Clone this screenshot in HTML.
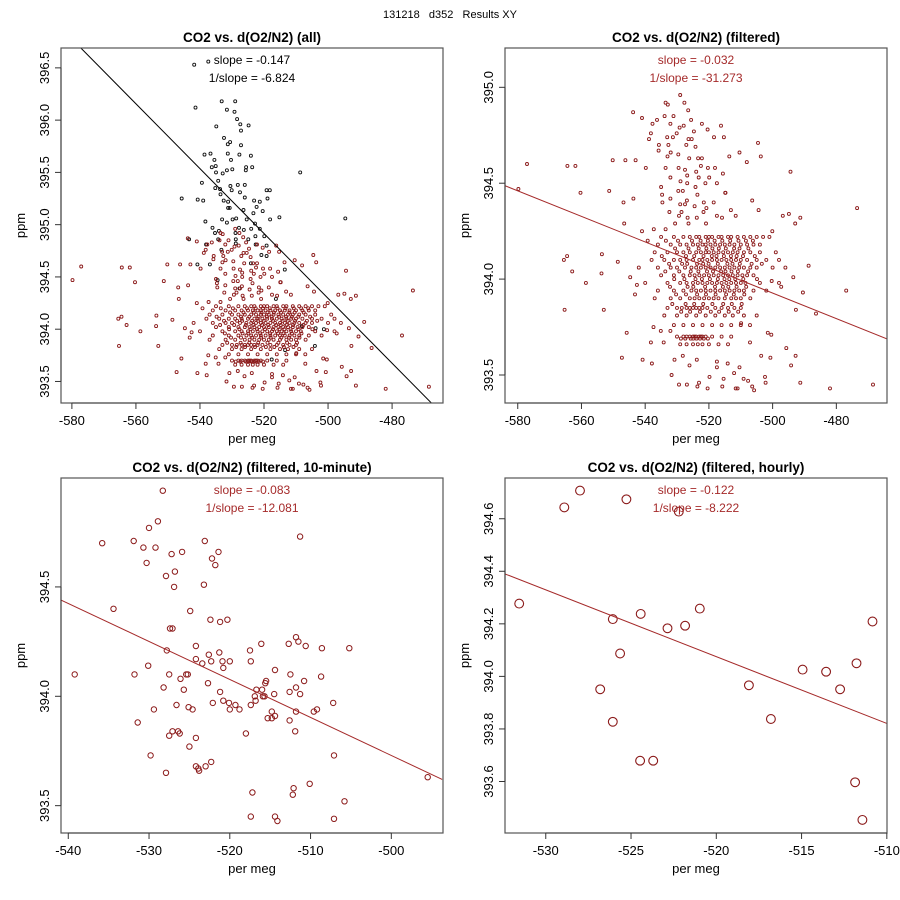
<!DOCTYPE html>
<html><head><meta charset="utf-8"><style>
html,body{margin:0;padding:0;background:#fff;}
svg{display:block;font-family:"Liberation Sans",Arial,sans-serif;}
</style></head><body>
<svg id="chart" width="900" height="900" viewBox="0 0 900 900">
<text x="450" y="18" text-anchor="middle" font-size="11" style="white-space:pre" xml:space="preserve">131218   d352   Results XY</text>
</svg>
<script>
// ---------- DATA ----------
const filteredOut = [
[-579.8,394.47],[-577.1,394.60],[-564.4,394.59],[-561.9,394.59],[-560.3,394.45],[-565.5,394.10],[-564.5,394.12],[-562.9,394.04],[-558.6,393.98],[-565.3,393.84],[-553.0,393.84],[-553.6,394.13],[-553.7,394.03],[-551.3,394.46],[-550.2,394.62],[-548.6,394.09],[-546.8,394.40],[-546.6,394.29],[-546.2,394.62],[-543.0,394.62],[-543.8,394.87],[-543.7,394.42],[-547.3,393.59],[-545.8,393.72],[-544.7,394.01],[-543.2,393.92],[-542.6,393.97],[-540.8,393.58],[-541.0,394.25],[-541.0,394.84],[-539.8,394.58],[-539.2,394.20],[-537.9,393.56],[-538.2,393.67],[-537.4,393.75],
[-468.5,393.45],[-473.5,394.37],[-482.0,393.43],[-476.9,393.94],[-486.4,393.82],[-488.7,394.07],[-490.5,393.93],[-491.3,393.46],[-491.3,394.32],[-492.9,394.29],[-492.7,393.84],[-492.8,393.60],[-494.4,394.56],[-494.2,393.55],[-495.7,393.64],[-494.9,394.34],[-496.8,394.33],[-493.5,394.01],[-496.0,394.06],[-497.3,393.96],[-504.6,394.71],[-503.7,394.64],[-508.1,394.61],[-510.4,394.66],[-513.6,394.64],[-516.2,394.80],[-515.3,394.74],[-515.6,394.55],[-514.9,394.45],[-506.4,394.41],[-504.4,394.36],[-500.1,394.25],[-500.3,393.99],[-500.7,393.59],[-501.5,393.72],[-500.4,393.71],[-502.4,393.49],[-502.2,393.46],[-503.6,393.60],[-507.1,393.76],[-507.1,393.67],[-509.9,393.77],[-507.7,393.47],[-506.4,393.44],[-505.8,393.42],[-509.1,393.48],[-511.0,393.43],[-511.6,393.43],[-512.1,393.51],[-510.4,393.54],[-514.1,393.56],[-515.4,393.48],[-515.8,393.44],[-517.5,393.57],[-517.5,393.54],[-519.8,393.49],[-520.4,393.43],[-523.1,393.46],[-523.6,393.44],[-523.8,393.58],[-526.1,393.55],[-526.9,393.45],[-529.4,393.45],[-530.8,393.58],[-531.7,393.50],[-528.2,393.60],[-532.1,393.73],[-534.2,393.67],[-535.1,393.73],
[-529.0,394.96],[-533.6,394.92],[-532.9,394.91],[-527.7,394.92],[-526.5,394.88],[-531.1,394.85],[-536.3,394.83],[-533.9,394.85],[-525.6,394.83],[-522.2,394.81],[-527.9,394.80],[-529.2,394.79],[-532.1,394.81],[-537.7,394.81],[-524.7,394.77],[-520.4,394.78],[-518.4,394.74],[-538.2,394.76],[-538.8,394.73],[-530.1,394.76],[-526.4,394.73],[-525.4,394.73],[-527.1,394.70],[-524.2,394.69],[-535.7,394.70],[-532.7,394.70],[-531.3,394.74],[-533.1,394.74],[-535.8,394.67],[-532.0,394.66],[-529.6,394.65],[-526.2,394.63],[-523.4,394.63],[-522.2,394.63],[-533.0,394.64],[-533.6,394.58],[-529.5,394.58],[-527.5,394.57],[-522.5,394.59],[-520.3,394.58],[-518.1,394.58],[-526.8,394.54],[-524.0,394.56],[-532.1,394.53],[-528.9,394.51],[-526.8,394.50],[-523.2,394.53],[-519.9,394.53],[-517.5,394.50],[-521.1,394.50],[-524.2,394.48],[-535.0,394.48],[-534.7,394.44],[-529.6,394.46],[-528.2,394.46],[-523.6,394.44],[-514.8,394.45],[-532.1,394.42],[-526.9,394.41],[-534.6,394.40],[-518.5,394.40],[-521.6,394.40],[-527.5,394.39],[-529.0,394.39],[-524.5,394.38],[-520.8,394.37],[-521.7,394.35],[-528.6,394.35],[-529.4,394.33],[-526.7,394.32],[-523.8,394.32],[-532.4,394.35],[-517.5,394.33],[-515.9,394.32],[-513.1,394.36],[-511.6,394.33],[-520.9,394.29],[-533.6,394.26],[-530.6,394.29],[-526.4,394.29],[-537.3,394.26]
];
const coreRowY = [394.22,394.18,394.14,394.10,394.06,394.02,393.98,393.94,393.90,393.85,393.81,393.76,393.70,393.66,
                  394.20,394.16,394.12,394.08,394.04,394.00,393.96,393.92,393.87,393.83,393.69];
const coreRowX = [
[-535,-531,-528,-526,-524,-523,-521,-520,-519,-517,-516,-514,-513,-511,-509,-507,-505,-503,-501],
[-536,-532,-529,-527,-525,-523.5,-522,-521,-519.5,-518,-516.5,-515,-513.5,-512,-510,-508,-506,-504],
[-537,-533,-530,-528,-526,-524,-522.5,-521,-520,-518.5,-517,-515.5,-514,-512.5,-511,-509,-507,-504,-499],
[-538,-534,-531,-529,-527,-525,-523,-522,-520.5,-519,-517.5,-516,-514.5,-513,-511.5,-510,-508,-505,-502,-498],
[-542,-536,-532,-530,-527.5,-525.5,-524,-522.5,-521,-519.5,-518,-516.5,-515,-513.5,-512,-510.5,-509,-507,-505,-500],
[-535,-531,-528,-526,-524.5,-523,-521.5,-520,-518.5,-517,-515.5,-514,-512.5,-511,-509.5,-508,-506],
[-540,-533,-529,-527,-525,-523.5,-522,-520.5,-519,-517.5,-516,-514.5,-513,-511.5,-510,-508.5,-504,-498],
[-536,-531,-528,-525.5,-524,-522.5,-521,-519.5,-518,-516.5,-515,-513.5,-512,-510.5,-509,-506,-502],
[-537,-532,-529,-526,-524.5,-523,-521.5,-520,-518.5,-517,-515,-513,-511.5,-510,-507],
[-533,-530,-528.5,-527,-526,-525,-524,-523,-522,-520.5,-518,-516,-514,-512,-510],
[-534,-530,-527,-524,-521,-518,-515,-512.5,-509,-505],
[-531,-528,-525,-522,-519,-516,-513,-510],
[-530,-528,-527,-526,-525,-524.5,-524,-523,-522.5,-522,-521,-519,-516,-513],
[-529,-527,-525,-523.5,-522,-520,-517,-514],
[-533.5,-529.7,-525.3,-522.6,-520.3,-518.2,-515.8,-513.3,-510.7,-508.4,-506.2],
[-530.6,-526.4,-523.2,-520.8,-518.9,-516.9,-514.7,-512.1,-510.4,-507.6],
[-534.8,-527.2,-524.6,-521.7,-519.1,-517.6,-515.3,-513.1,-511.3,-509.3,-505.6],
[-532.5,-528.4,-526.8,-523.7,-521.8,-520.1,-517.2,-514.2,-512.6,-510.3,-506.6,-503.4],
[-533.7,-529.3,-525.7,-523.3,-520.6,-518.7,-516.2,-514.8,-512.9,-510.9,-507.7],
[-530.9,-527.7,-524.2,-522.2,-519.7,-517.2,-515.1,-513.6,-511.7,-509.2,-504.9],
[-532.2,-526.7,-524.9,-521.2,-518.1,-515.6,-513.9,-511.3,-508.3],
[-530.3,-527.2,-523.7,-520.9,-517.9,-514.6,-512.2,-508.9],
[-531.5,-527.3,-524.6,-521.8,-518.9,-515.5,-512.8,-509.7],
[-528.7,-525.9,-522.8,-519.4,-516.8,-513.8,-510.8],
[-528.8,-527.4,-525.7,-524.9,-523.9,-522.8,-521.6,-520.3]
];
const excludedPts = [
[-541.8,396.53],[-537.4,396.56],[-541.4,396.12],[-533.2,396.18],[-529.0,396.18],[-531.6,396.10],[-529.2,396.08],[-528.4,396.01],[-527.4,395.96],[-534.9,395.94],[-524.8,395.95],[-527.2,395.90],[-532.5,395.83],[-530.6,395.79],[-531.3,395.77],[-527.2,395.76],[-538.6,395.67],[-536.7,395.68],[-531.3,395.68],[-527.7,395.67],[-524.1,395.66],[-535.5,395.62],[-530.3,395.62],[-536.3,395.55],[-535.1,395.56],[-529.9,395.53],[-531.6,395.52],[-525.6,395.55],[-523.7,395.55],[-525.7,395.52],[-508.7,395.50],[-535.0,395.50],[-532.9,395.49],[-534.3,395.42],[-539.4,395.40],[-530.5,395.37],[-528.2,395.38],[-526.0,395.38],[-535.2,395.35],[-533.7,395.34],[-530.1,395.33],[-527.5,395.31],[-533.6,395.29],[-526.0,395.26],[-545.7,395.25],[-540.7,395.24],[-539.0,395.23],[-532.6,395.23],[-531.2,395.22],[-523.1,395.23],[-521.3,395.22],[-519.2,395.33],[-518.2,395.33],[-518.9,395.25],[-531.2,395.16],[-530.7,395.16],[-526.4,395.14],[-522.3,395.17],[-520.4,395.13],[-523.3,395.11],[-494.6,395.06],[-515.2,395.07],[-518.1,395.05],[-538.3,395.03],[-533.1,395.05],[-529.8,395.05],[-528.7,395.06],[-525.4,395.05],[-531.6,395.02],[-522.8,395.01],[-536.1,394.97],[-527.8,394.97],[-521.3,394.96],[-534.1,394.94],[-535.3,394.92],[-528.9,394.92],[-526.3,394.95],[-524.0,394.96],[-522.7,394.89],[-519.9,394.89],[-534.3,394.86],[-528.8,394.86],[-524.9,394.86],[-543.4,394.86],[-522.6,394.81],[-528.8,394.82],[-538.1,394.81],[-519.2,394.80],[-533.3,394.76],[-520.8,394.71],[-519.2,394.70],[-540.8,394.62],[-536.9,394.62],[-513.5,394.57],[-534.5,394.47],[-527.7,394.39],[-516.3,394.29],[-504.1,393.84],[-508.2,394.03],[-503.9,394.01],[-501.3,394.00],[-517.6,393.71],[-513.4,393.80],[-524.1,394.63]
];
const tenMinX = [-528.3,-528.9,-530.0,-535.8,-531.9,-530.7,-529.2,-523.1,-527.2,-525.9,-521.4,-530.3,-522.2,-521.8,-526.8,-527.9,-526.9,-523.2,-511.3,-534.4,-524.9,-527.4,-527.1,-522.4,-521.2,-520.3,-527.8,-524.2,-522.6,-521.3,-524.2,-523.4,-522.3,-520.9,-520.0,-520.8,-530.1,-539.2,-531.8,-527.5,-525.4,-525.2,-526.1,-522.7,-528.2,-525.7,-521.2,-517.5,-516.1,-517.4,-514.4,-512.7,-511.8,-511.5,-510.6,-508.6,-505.2,-512.5,-508.7,-510.8,-515.5,-515.6,-516.7,-516.0,-512.6,-511.8,-511.3,-514.5,-516.9,-515.9,-515.7,-516.8,-520.8,-520.1,-519.3,-520.0,-518.8,-522.1,-526.6,-525.1,-524.6,-529.4,-517.4,-514.8,-511.8,-515.3,-514.8,-514.4,-512.6,-509.6,-509.2,-507.2,-531.4,-527.1,-527.5,-526.4,-526.2,-524.2,-525.0,-518.0,-511.9,-529.8,-507.1,-524.2,-523.9,-523.8,-523.0,-522.3,-527.9,-495.5,-510.1,-517.2,-512.1,-512.2,-505.8,-517.4,-514.4,-514.1,-507.1];
const tenMinY = [394.94,394.80,394.77,394.70,394.71,394.68,394.68,394.71,394.65,394.66,394.66,394.61,394.63,394.60,394.57,394.55,394.50,394.51,394.73,394.40,394.39,394.31,394.31,394.35,394.34,394.35,394.21,394.23,394.19,394.20,394.17,394.15,394.16,394.16,394.16,394.13,394.14,394.10,394.10,394.10,394.10,394.10,394.08,394.06,394.04,394.03,394.02,394.21,394.24,394.16,394.12,394.24,394.27,394.25,394.23,394.22,394.22,394.10,394.09,394.07,394.07,394.06,394.03,394.03,394.02,394.04,394.01,394.01,394.00,394.00,394.00,393.98,393.98,393.97,393.96,393.94,393.94,393.97,393.96,393.95,393.94,393.94,393.96,393.93,393.93,393.90,393.90,393.91,393.89,393.93,393.94,393.97,393.88,393.84,393.82,393.84,393.83,393.81,393.77,393.83,393.84,393.73,393.73,393.68,393.67,393.66,393.68,393.70,393.65,393.63,393.60,393.56,393.58,393.55,393.52,393.45,393.45,393.43,393.44];
const hourX = [-531.56,-528.91,-527.99,-525.27,-522.20,-526.07,-524.43,-522.86,-521.83,-520.97,-525.64,-526.81,-526.07,-524.47,-523.70,-518.09,-516.80,-514.94,-513.56,-512.74,-511.78,-510.84,-511.86,-511.43];
const hourY = [394.277,394.643,394.707,394.674,394.627,394.218,394.238,394.183,394.193,394.258,394.087,393.951,393.827,393.679,393.679,393.966,393.838,394.026,394.018,393.951,394.050,394.209,393.597,393.454];
const fitAll = [-577.2,396.69,-467.6,393.29];
const fitFiltered = [-584.0,394.487,-464.1,393.688];
const fitTenMin = [-540.9,394.44,-493.7,393.62];
const fitHourly = [-532.39,394.390,-510.0,393.821];
const ticksX1 = [-580,-560,-540,-520,-500,-480];
const ticksY1 = ["393.5","394.0","394.5","395.0","395.5","396.0","396.5"];
const ticksY2 = ["393.5","394.0","394.5","395.0"];
const ticksX3 = [-540,-530,-520,-510,-500];
const ticksY3 = ["393.5","394.0","394.5"];
const ticksX4 = [-530,-525,-520,-515,-510];
const ticksY4 = ["393.6","393.8","394.0","394.2","394.4","394.6"];
const slopeLabels = [["slope = -0.147","1/slope = -6.824"],["slope = -0.032","1/slope = -31.273"],["slope = -0.083","1/slope = -12.081"],["slope = -0.122","1/slope = -8.222"]];
const titles = ["CO2 vs. d(O2/N2) (all)","CO2 vs. d(O2/N2) (filtered)","CO2 vs. d(O2/N2) (filtered, 10-minute)","CO2 vs. d(O2/N2) (filtered, hourly)"];

// ---------- DRAW ----------
const NS = "http://www.w3.org/2000/svg";
const svg = document.getElementById("chart");
function mk(tag, attrs, parent){const e=document.createElementNS(NS,tag);for(const k in attrs)e.setAttribute(k,attrs[k]);(parent||svg).appendChild(e);return e;}
const RED="#8b1a1a", TXTRED="#a52a2a";
const filteredPts = filteredOut.slice();
coreRowY.forEach((y,i)=>coreRowX[i].forEach(x=>filteredPts.push([x,y])));

const panels = [
 {bx:61,by:48,bw:382,bh:355,x0:-583.4,x1:-464.1,y0:393.294,y1:396.69,tx:ticksX1,ty:ticksY1,fit:fitAll,fitCol:"#000",txtCol:"#000",r:1.5},
 {bx:505,by:48,bw:382,bh:355,x0:-584.0,x1:-464.1,y0:393.354,y1:395.205,tx:ticksX1,ty:ticksY2,fit:fitFiltered,fitCol:TXTRED,txtCol:TXTRED,r:1.5},
 {bx:61,by:478,bw:382,bh:355,x0:-540.9,x1:-493.6,y0:393.375,y1:394.998,tx:ticksX3,ty:ticksY3,fit:fitTenMin,fitCol:TXTRED,txtCol:TXTRED,r:2.7},
 {bx:505,by:478,bw:382,bh:355,x0:-532.39,x1:-509.99,y0:393.404,y1:394.755,tx:ticksX4,ty:ticksY4,fit:fitHourly,fitCol:TXTRED,txtCol:TXTRED,r:4.4}
];
const pnames=["panel-all","panel-filtered","panel-ten-minute","panel-hourly"];
panels.forEach((p,i)=>{
  const g=mk("g",{});
  
  
  const sx=v=>p.bx+(v-p.x0)/(p.x1-p.x0)*p.bw;
  const sy=v=>p.by+p.bh-(v-p.y0)/(p.y1-p.y0)*p.bh;
  const cp="clip"+i;
  const cl=mk("clipPath",{id:cp},g); mk("rect",{x:p.bx,y:p.by,width:p.bw,height:p.bh},cl);
  const t=mk("text",{x:p.bx+p.bw/2,y:p.by-6,"text-anchor":"middle","font-size":"13.5","font-weight":"bold"},g);
  t.textContent=titles[i];
  
  
  const pg=mk("g",{"clip-path":"url(#"+cp+")",fill:"none"},g);
  
  
  const dot=(x,y,col,sw)=>{const c=mk("circle",{cx:sx(x).toFixed(1),cy:sy(y).toFixed(1),r:p.r,stroke:col,"stroke-width":sw},pg);
    
    };
  if(i===0){excludedPts.forEach(d=>dot(d[0],d[1],"#111",0.9));}
  if(i<2){filteredPts.forEach(d=>dot(d[0],d[1],RED,0.9));}
  if(i===2){tenMinX.forEach((x,k)=>dot(x,tenMinY[k],RED,1));}
  if(i===3){hourX.forEach((x,k)=>dot(x,hourY[k],RED,1.1));}
  const ln=mk("line",{x1:sx(p.fit[0]),y1:sy(p.fit[1]),x2:sx(p.fit[2]),y2:sy(p.fit[3]),stroke:p.fitCol,"stroke-width":1,"clip-path":"url(#"+cp+")"},g);
  
  
  slopeLabels[i].forEach((s,k)=>{const st=mk("text",{x:p.bx+p.bw/2,y:p.by+16+k*18,"text-anchor":"middle","font-size":"12",fill:p.txtCol},g);st.textContent=s;
    
    });
  const bx=mk("rect",{x:p.bx,y:p.by,width:p.bw,height:p.bh,fill:"none",stroke:"#555","stroke-width":1.2},g);
  
  
  const xa=mk("g",{},g);
  
  
  const xs=p.tx.map(sx);
  mk("line",{x1:xs[0],y1:p.by+p.bh,x2:xs[xs.length-1],y2:p.by+p.bh,stroke:"#333"},xa);
  p.tx.forEach(v=>{const X=sx(v);mk("line",{x1:X,y1:p.by+p.bh,x2:X,y2:p.by+p.bh+6,stroke:"#333"},xa);
    const tl=mk("text",{x:X,y:p.by+p.bh+22,"text-anchor":"middle","font-size":"13"},xa);tl.textContent=String(v);
    
    });
  const xt=mk("text",{x:p.bx+p.bw/2,y:p.by+p.bh+40,"text-anchor":"middle","font-size":"13"},xa);xt.textContent="per meg";
  
  
  const ya=mk("g",{},g);
  
  
  const yv=p.ty.map(Number);
  mk("line",{x1:p.bx,y1:sy(yv[0]),x2:p.bx,y2:sy(yv[yv.length-1]),stroke:"#333"},ya);
  p.ty.forEach(s=>{const Y=sy(Number(s));mk("line",{x1:p.bx-6,y1:Y,x2:p.bx,y2:Y,stroke:"#333"},ya);
    const tl=mk("text",{x:p.bx-12,y:Y,"text-anchor":"middle","font-size":"13",transform:"rotate(-90 "+(p.bx-12)+" "+Y+")"},ya);tl.textContent=s;
    
    });
  const yx=p.bx-36, yy=p.by+p.bh/2;
  const yt=mk("text",{x:yx,y:yy,"text-anchor":"middle","font-size":"13",transform:"rotate(-90 "+yx+" "+yy+")"},ya);yt.textContent="ppm";
  
  
});
</script>
</body></html>
